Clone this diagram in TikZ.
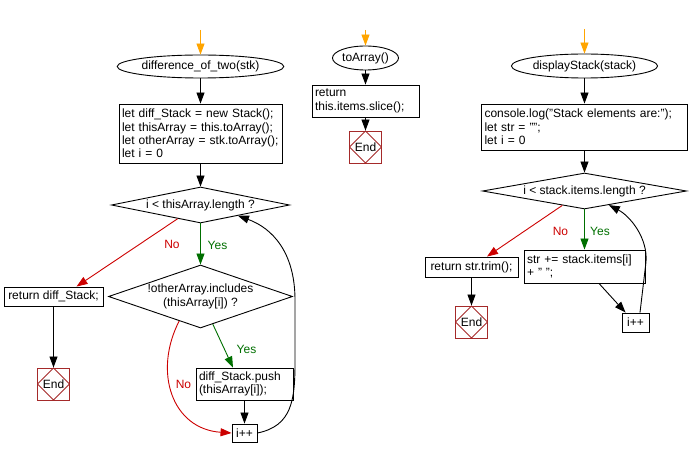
\documentclass[tikz,border=0pt]{standalone}
\usepackage{fontspec}
\setmainfont{Liberation Sans}
\usetikzlibrary{shapes.geometric,arrows.meta}
\definecolor{ygreen}{HTML}{006F00}
\definecolor{nred}{HTML}{CC0000}
\definecolor{endred}{HTML}{A52A2A}
\definecolor{startor}{HTML}{FFA500}
\begin{document}
\begin{tikzpicture}[x=1pt,y=-1pt,
  txt/.style={font=\fontsize{12}{13.3}\selectfont},
  base/.style={draw, line width=0.9pt, txt, inner sep=0pt},
  proc/.style={base, rectangle, align=left, inner xsep=3pt, inner ysep=0pt},
  procc/.style={base, rectangle, align=center},
  term/.style={base, ellipse},
  cond/.style={base, diamond},
  endnode/.style={draw=endred, line width=0.9pt, minimum size=32pt, inner sep=0pt, txt,
    path picture={\draw[endred, line width=0.9pt]
      (path picture bounding box.north) -- (path picture bounding box.east) --
      (path picture bounding box.south) -- (path picture bounding box.west) -- cycle;}},
  arr/.style={-{Triangle[length=11pt,width=8pt]}, line width=0.9pt},
  startarr/.style={arr, draw=startor},
  yesarr/.style={arr, draw=ygreen},
  noarr/.style={arr, draw=nred},
  yeslbl/.style={txt, text=ygreen, inner sep=0pt},
  nolbl/.style={txt, text=nred, inner sep=0pt},
  plain/.style={txt, inner sep=0pt}
]
\useasboundingbox (0,0) rectangle (689,457);

% ---------- Column 1 ----------
\coordinate (s1) at (200.5,30);
\node[term, minimum width=137pt, minimum height=23pt] (e1) at (200.5,66.5) {difference\_of\_two(stk)};
\node[proc, text width=157pt, minimum height=59pt] (b1) at (200.5,133.5)
  {let diff\_Stack = new Stack();\\let thisArray = this.toArray();\\let otherArray = stk.toArray();\\let i = 0};
\node[cond, minimum width=178pt, minimum height=36pt] (d1) at (200.5,205) {};
\node[plain] (d1t) at (d1) {i < thisArray.length ?};
\node[cond, minimum width=184pt, minimum height=63pt] (d2) at (200.5,296.5) {};
\node[plain, align=center] (d2t) at (d2) {!otherArray.includes\\(thisArray[i]) ?};
\node[procc, minimum width=99pt, minimum height=19pt] (r1) at (53.5,296.5) {return diff\_Stack;};
\node[endnode] (end1) at (53.5,384) {End};
\node[proc, text width=91pt, minimum height=32pt] (p1) at (244.5,384) {diff\_Stack.push\\(thisArray[i]);};
\node[procc, minimum width=25pt, minimum height=18pt] (inc1) at (244.5,433) {i++};

\draw[startarr] (s1) -- (e1.north);
\draw[arr] (e1.south) -- (b1.north);
\draw[arr] (b1.south) -- (d1.north);
\draw[yesarr] (d1.south) -- (d2.north);
\node[yeslbl] (y1) at (217.5,245) {Yes};
\draw[noarr] (d1.211) -- ([xshift=23pt]r1.north);
\node[nolbl] (n1) at (172,244.5) {No};
\draw[arr] (r1.south) -- (end1.north);
\draw[yesarr] (d2.-66) -- ([xshift=-11.5pt]p1.north);
\node[yeslbl] (y2) at (246.5,349) {Yes};
\draw[noarr] (d2.229) .. controls (153,372) and (172,429) .. (inc1.west);
\node[nolbl] (n2) at (183.5,384.5) {No};
\draw[arr] (p1.south) -- (inc1.north);
\draw[arr] (inc1.east) .. controls (292,426) and (295,400) .. (295,362)
  -- (295,300) .. controls (295,252) and (272,228) .. (d1.-16);

% ---------- Column 2 ----------
\coordinate (s2) at (365.5,30);
\node[term, minimum width=64pt, minimum height=24pt] (e2) at (365.5,58) {toArray()};
\node[proc, text width=101pt, minimum height=32pt] (b2) at (365.5,101) {return\\this.items.slice();};
\node[endnode] (end2) at (365.5,147) {End};
\draw[startarr] (s2) -- (e2.north);
\draw[arr] (e2.south) -- (b2.north);
\draw[arr] (b2.south) -- (end2.north);

% ---------- Column 3 ----------
\coordinate (s3) at (584.5,29);
\node[term, minimum width=122pt, minimum height=24pt] (e3) at (584.5,66) {displayStack(stack)};
\node[proc, text width=200pt, minimum height=46pt] (b3) at (584.5,127)
  {console.log("Stack elements are:");\\let str = "";\\let i = 0};
\node[cond, minimum width=204pt, minimum height=36pt] (d3) at (584.5,191) {};
\node[plain] (d3t) at (d3) {i < stack.items.length ?};
\node[procc, minimum width=93pt, minimum height=20pt] (r3) at (471.5,267) {return str.trim();};
\node[endnode] (end3) at (471.5,322) {End};
\node[proc, text width=115pt, minimum height=33pt] (p3) at (584.5,266.5) {str += stack.items[i]\\+ " ";};
\node[procc, minimum width=27pt, minimum height=19pt] (inc3) at (635.5,322.5) {i++};

\draw[startarr] (s3) -- (e3.north);
\draw[arr] (e3.south) -- (b3.north);
\draw[arr] (b3.south) -- (d3.north);
\draw[yesarr] (d3.south) -- (p3.north);
\node[yeslbl] (y3) at (600,231.5) {Yes};
\draw[noarr] (d3.213) -- ([xshift=15.5pt]r3.north);
\node[nolbl] (n3) at (560.5,231) {No};
\draw[arr] (r3.south) -- (end3.north);
\draw[arr] ([xshift=14.5pt]p3.south) -- ([xshift=4pt]inc3.north west);
\draw[arr] ([xshift=4.5pt]inc3.north) -- (646,262) .. controls (648,238) and (630,216) .. (d3.-30);
\end{tikzpicture}
\end{document}
